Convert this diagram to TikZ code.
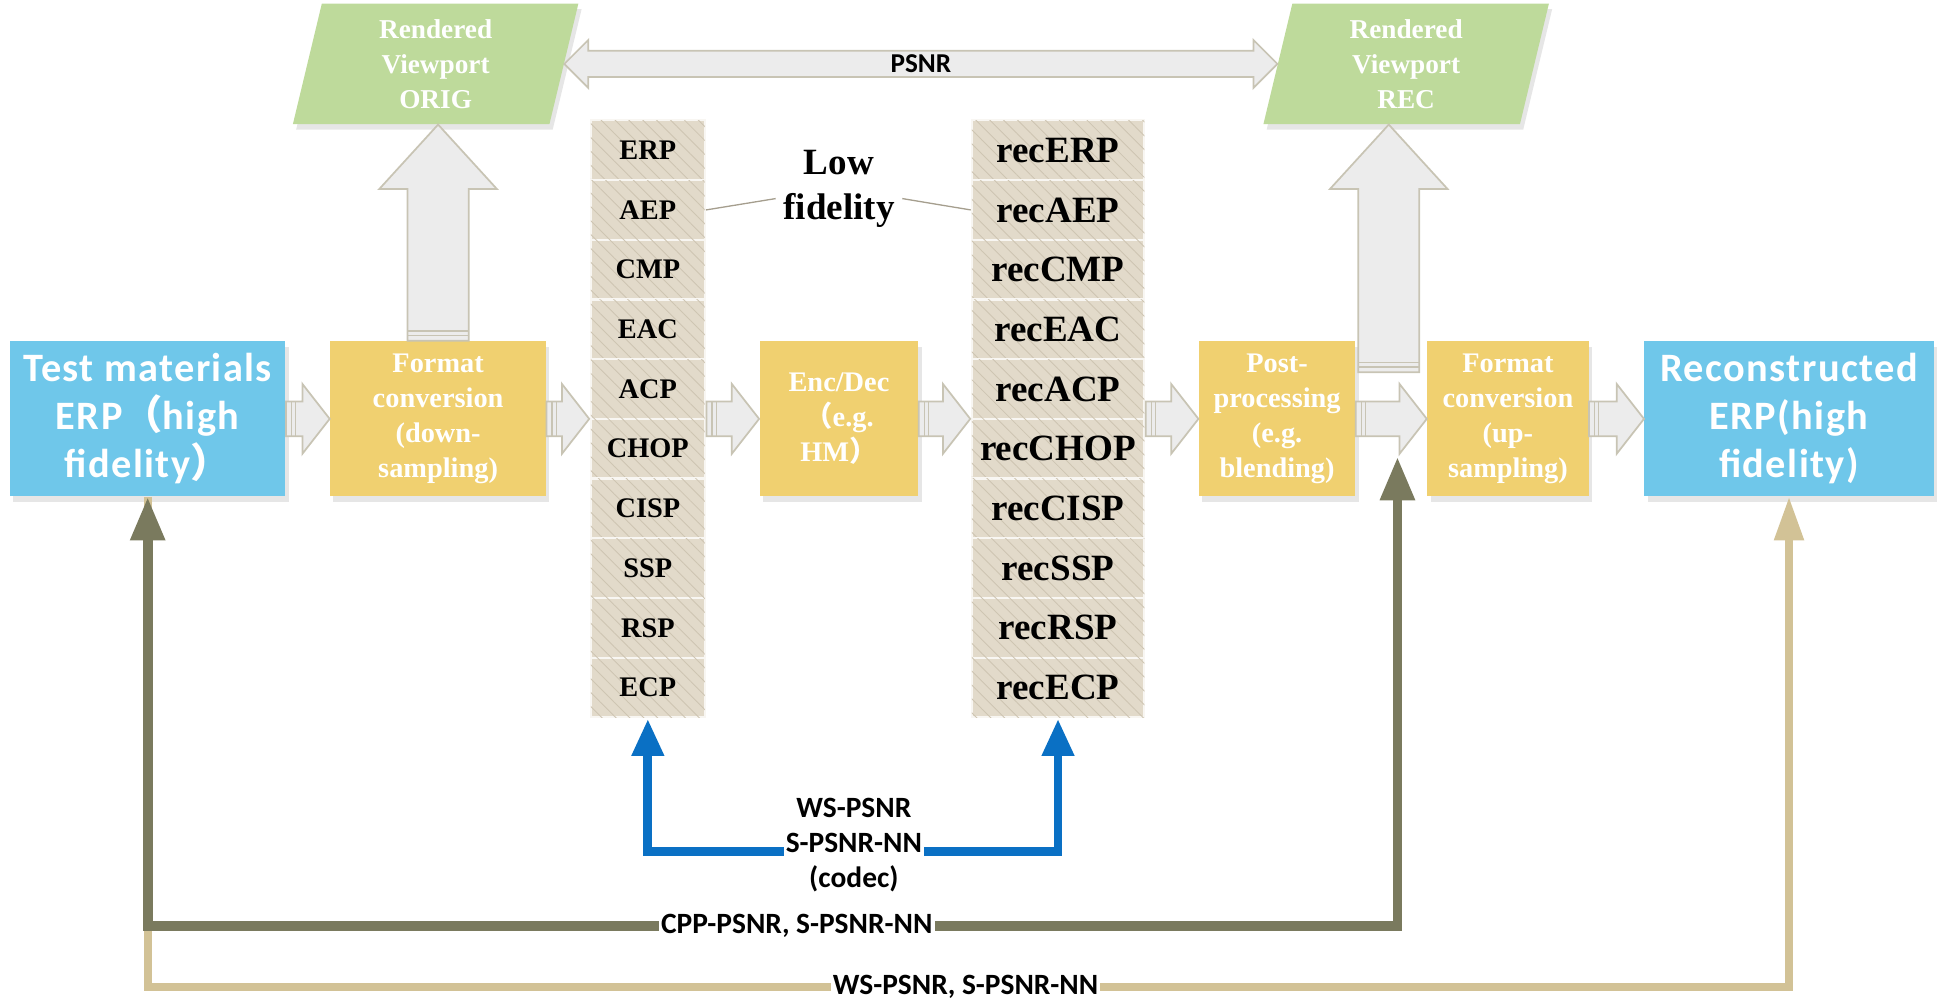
\documentclass[tikz,border=0pt]{standalone}
\usepackage{fontspec}
\setmainfont{Liberation Serif}
\newfontfamily\calfont{Carlito}
\newfontfamily\calwide[LetterSpace=3.5]{Carlito}
\newfontfamily\cjk{Noto Sans CJK SC}
\usetikzlibrary{shapes.geometric,arrows.meta,calc,fit,patterns.meta,shadows}

\definecolor{tmblue}{HTML}{6FC7EA}
\definecolor{boxyellow}{HTML}{F0D070}
\definecolor{vpgreen}{HTML}{BEDA9B}
\definecolor{cellbg}{HTML}{E2DACA}
\definecolor{cellhatch}{HTML}{CEC5B2}
\definecolor{arrowfill}{HTML}{ECECEC}
\definecolor{arrowedge}{HTML}{C8C4B4}
\definecolor{codecblue}{HTML}{0A70C4}
\definecolor{cppolive}{HTML}{7A7A5E}
\definecolor{wstan}{HTML}{D2C296}

\tikzset{
  shade/.style={drop shadow={shadow xshift=1.5pt, shadow yshift=-2.5pt, opacity=.2}},
  endbox/.style={shade, fill=tmblue, text=white, align=center, inner sep=0,
    minimum height=25mm, font=\calwide\bfseries\fontsize{18.5}{22}\selectfont},
  procbox/.style={shade, fill=boxyellow, text=white, align=center, inner sep=0,
    minimum height=25mm, font=\bfseries\fontsize{13}{16}\selectfont},
  vpbox/.style={shade, trapezium, trapezium left angle=72, trapezium right angle=108,
    trapezium stretches body, minimum width=46mm, minimum height=19.4mm, inner sep=0,
    fill=vpgreen, text=white, align=center, font=\bfseries\fontsize{12.5}{16}\selectfont},
  cell/.style={minimum height=9.62mm, inner sep=0, fill=cellbg,
    draw=white!75!cellbg, line width=1pt,
    postaction={pattern={Lines[angle=-45,distance=4.5pt,line width=.4pt]}, pattern color=cellhatch}},
  fatarr/.style={fill=arrowfill, draw=arrowedge, line width=.8pt, line join=miter},
  fatstripe/.style={draw=arrowedge, line width=.6pt},
  lbl/.style={fill=white, inner sep=1pt, align=center,
    font=\calfont\bfseries\fontsize{13.5}{16}\selectfont},
  codecline/.style={draw=codecblue, line width=4pt,
    {Triangle[width=14pt,length=17pt]}-{Triangle[width=14pt,length=17pt]}},
  cppline/.style={draw=cppolive, line width=4.5pt,
    {Triangle[width=15pt,length=20pt]}-{Triangle[width=15pt,length=20pt]}},
  wsline/.style={draw=wstan, line width=3.5pt, -{Triangle[width=13pt,length=20pt]}},
  fidline/.style={draw=cellhatch!80!black, line width=.6pt}
}

% horizontal block arrow, #1 east side to #2 west side
\newcommand{\fatarrow}[2]{%
  \draw[fatarr] let \p1=(#1.east), \p2=(#2.west) in
    (\x1,\y1+8pt) -- (\x2-12.5pt,\y1+8pt) -- (\x2-12.5pt,\y1+16pt) -- (\x2,\y1)
    -- (\x2-12.5pt,\y1-16pt) -- (\x2-12.5pt,\y1-8pt) -- (\x1,\y1-8pt) -- cycle;
  \draw[fatstripe] let \p1=(#1.east) in
    (\x1+2.5pt,\y1+8pt) -- (\x1+2.5pt,\y1-8pt)
    (\x1+4.5pt,\y1+8pt) -- (\x1+4.5pt,\y1-8pt);
}
% vertical block arrow, foot #1 up to tip #2
\newcommand{\fatup}[2]{%
  \draw[fatarr] let \p1=(#1), \p2=(#2) in
    (\x1-14pt,\y1) -- (\x1-14pt,\y2-29.6pt) -- (\x1-27pt,\y2-29.6pt) -- (\x1,\y2)
    -- (\x1+27pt,\y2-29.6pt) -- (\x1+14pt,\y2-29.6pt) -- (\x1+14pt,\y1) -- cycle;
  \draw[fatstripe] let \p1=(#1) in
    (\x1-14pt,\y1+2.5pt) -- (\x1+14pt,\y1+2.5pt)
    (\x1-14pt,\y1+4.5pt) -- (\x1+14pt,\y1+4.5pt);
}

\begin{document}
\begin{tikzpicture}[x=0.2mm,y=-0.2mm]
  \useasboundingbox (0,0) rectangle (1568,809);

  % main chain
  \node[endbox, minimum width=44.4mm] (tm) at (119,337.5) {Test materials\\ERP{\cjk （}high\\fidelity{\cjk ）}};
  \node[procbox, minimum width=34.8mm] (fcd) at (353,337.5) {Format\\conversion\\(down-\\sampling)};
  \node[procbox, minimum width=25.6mm] (enc) at (676,337.5) {Enc/Dec\\{\cjk （}e.g.\\HM{\cjk ）}};
  \node[procbox, minimum width=25.2mm] (post) at (1029,337.5) {Post-\\processing\\(e.g.\\blending)};
  \node[procbox, minimum width=26mm] (fcu) at (1215,337.5) {Format\\conversion\\(up-\\sampling)};
  \node[endbox, minimum width=46.6mm] (recb) at (1441.5,337.5) {Reconstructed\\ERP(high\\fidelity)};

  % viewports
  \node[vpbox] (orig) at (351,51.5) {Rendered\\Viewport\\ORIG};
  \node[vpbox] (recvp) at (1133,51.5) {Rendered\\Viewport\\REC};

  % projection formats
  \foreach \lbl [count=\i] in {ERP,AEP,CMP,EAC,ACP,CHOP,CISP,SSP,RSP,ECP} {
    \node[cell, minimum width=18.4mm, font=\bfseries\fontsize{13}{15}\selectfont]
      (L\i) at (522,{72.95+48.1*\i}) {\lbl};
    \node[cell, minimum width=27.8mm, font=\bfseries\fontsize{17}{19}\selectfont]
      (R\i) at (852.5,{72.95+48.1*\i}) {rec\lbl};
  }
  \node[fit=(L1)(L10), inner sep=0] (colL) {};
  \node[fit=(R1)(R10), inner sep=0] (colR) {};

  \node[align=center, font=\bfseries\fontsize{17}{20.5}\selectfont] (lowfid) at (676,152) {Low\\fidelity};
  \draw[fidline] (L2.east) -- ($(lowfid.west)+(0,8)$);
  \draw[fidline] ($(lowfid.east)+(0,8)$) -- (R2.west);

  % block arrows
  \fatarrow{tm}{fcd}
  \fatarrow{fcd}{colL}
  \fatarrow{colL}{enc}
  \fatarrow{enc}{colR}
  \fatarrow{colR}{post}
  \fatarrow{post}{fcu}
  \fatarrow{fcu}{recb}

  \coordinate (recfoot) at (1119,300);
  \fatup{fcd.north}{orig.south}
  \fatup{recfoot}{recvp.south}

  \draw[fatarr] let \p1=(orig.east), \p2=(recvp.west) in
    (\x1,\y1) -- (\x1+11pt,\y1+11pt) -- (\x1+11pt,\y1+6pt) -- (\x2-11pt,\y1+6pt)
    -- (\x2-11pt,\y1+11pt) -- (\x2,\y1) -- (\x2-11pt,\y1-11pt) -- (\x2-11pt,\y1-6pt)
    -- (\x1+11pt,\y1-6pt) -- (\x1+11pt,\y1-11pt) -- cycle;
  \node[font=\calfont\bfseries\fontsize{12.5}{14}\selectfont] (psnrlbl)
    at ($(orig.east)!.5!(recvp.west)$) {PSNR};

  % metric connectors
  \draw[codecline] (colL.south) -- ++(0,107) -| (colR.south);
  \node[lbl] (codeclbl) at (688,681) {WS-PSNR\\S-PSNR-NN\\(codec)};

  \coordinate (cpptip) at (1126,368);
  \draw[wsline] (tm.south) -- ++(0,395) -| (recb.south);
  \draw[cppline] (tm.south) -- ++(0,346) -| (cpptip);
  \node[lbl] (cpplbl) at (642,746) {CPP-PSNR, S-PSNR-NN};
  \node[lbl] (wslbl) at (778,795) {WS-PSNR, S-PSNR-NN};
\end{tikzpicture}
\end{document}
